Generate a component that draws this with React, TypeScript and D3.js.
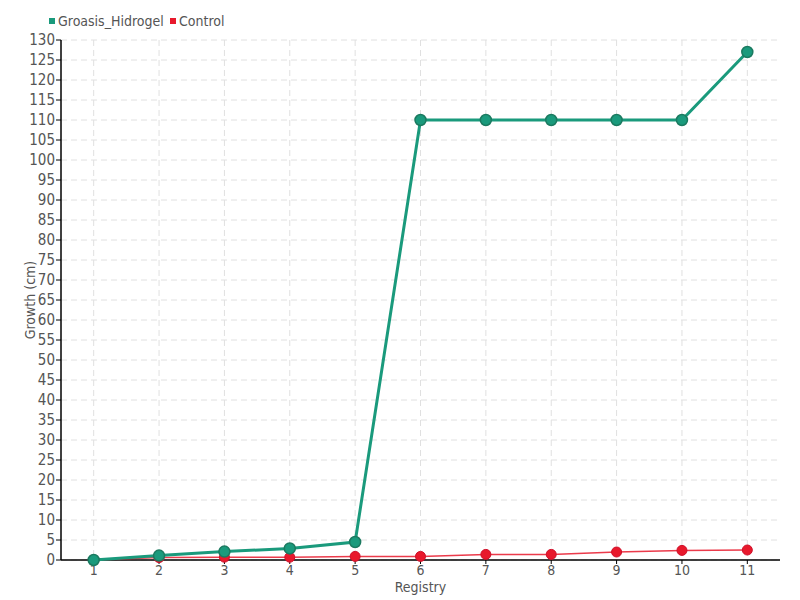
import React from "react";
import * as d3 from "d3";

const categories = ["1", "2", "3", "4", "5", "6", "7", "8", "9", "10", "11"];
const groasisValues = [0, 1.1, 2.1, 2.9, 4.5, 110, 110, 110, 110, 110, 127];
const controlValues = [0, 0.6, 0.7, 0.7, 0.9, 0.9, 1.4, 1.4, 2, 2.4, 2.5];
const yTicks = d3.range(0, 131, 5);

const W = 800, H = 600;
const M = { left: 61, right: 20, top: 40, bottom: 40 };
const FONT = "'DejaVu Sans Condensed', 'Liberation Sans Narrow', 'DejaVu Sans', sans-serif";
const GREEN = "#1a9a7c";
const GREEN_DARK = "#1b7a60";
const RED = "#e8192c";

export default function App() {
  const x = d3.scaleBand<string>().domain(categories).range([M.left, W - M.right]).padding(0);
  const y = d3.scaleLinear().domain([0, 130]).range([H - M.bottom, M.top]);
  const cx = (c: string) => (x(c) as number) + x.bandwidth() / 2;
  const line = d3.line<number>().x((_, i) => cx(categories[i])).y((d) => y(d));
  const x0 = M.left, x1 = W - M.right, y0 = y(0), yTop = y(130);

  return (
    <svg width={W} height={H} style={{ position: "absolute", left: 0, top: 0, fontFamily: FONT }}>
      <rect width={W} height={H} fill="#fff" />
      {/* grid */}
      {yTicks.map((t) => (
        <line key={"h" + t} x1={x0} x2={x1} y1={y(t)} y2={y(t)} stroke="#e0e0e0" strokeDasharray="6,4" />
      ))}
      {categories.map((c) => (
        <line key={"v" + c} x1={cx(c)} x2={cx(c)} y1={yTop} y2={y0} stroke="#e0e0e0" strokeDasharray="6,4" />
      ))}
      {/* y axis */}
      <line x1={x0} x2={x0} y1={yTop} y2={y0} stroke="#000" strokeWidth={1.5} />
      {yTicks.map((t) => (
        <g key={"yt" + t}>
          <line x1={x0 - 5} x2={x0} y1={y(t)} y2={y(t)} stroke="#000" />
          <text x={x0 - 6} y={y(t)} dy="0.35em" textAnchor="end" fontSize={15} fill="#555">{t}</text>
        </g>
      ))}
      {/* x axis */}
      <line x1={x0} x2={x1} y1={y0} y2={y0} stroke="#000" strokeWidth={1.5} />
      {categories.map((c) => (
        <g key={"xt" + c}>
          <line x1={cx(c)} x2={cx(c)} y1={y0} y2={y0 + 4} stroke="#000" />
          <text x={cx(c)} y={y0 + 15} textAnchor="middle" fontSize={14} fill="#555">{c}</text>
        </g>
      ))}
      <text x={(x0 + x1) / 2} y={592} textAnchor="middle" fontSize={14} fill="#555">Registry</text>
      <text transform={`translate(35,${(yTop + y0) / 2}) rotate(-90)`} textAnchor="middle" fontSize={14} fill="#555">Growth (cm)</text>
      {/* control series */}
      <path d={line(controlValues) || ""} fill="none" stroke={RED} strokeWidth={1.5} strokeOpacity={0.85} />
      {controlValues.map((v, i) => (
        <circle key={"c" + i} cx={cx(categories[i])} cy={y(v)} r={5} fill={RED} stroke="#d0102a" strokeWidth={1} />
      ))}
      {/* groasis series */}
      <path d={line(groasisValues) || ""} fill="none" stroke={GREEN} strokeWidth={3} />
      {groasisValues.map((v, i) => (
        <circle key={"g" + i} cx={cx(categories[i])} cy={y(v)} r={5.5} fill={GREEN} stroke={GREEN_DARK} strokeWidth={1.5} />
      ))}
      {/* legend */}
      <rect x={49} y={18} width={6} height={6} fill={GREEN} />
      <text x={58} y={26} fontSize={14} fill="#555">Groasis_Hidrogel</text>
      <rect x={170} y={18} width={6} height={6} fill={RED} />
      <text x={179} y={26} fontSize={14} fill="#555">Control</text>
    </svg>
  );
}
